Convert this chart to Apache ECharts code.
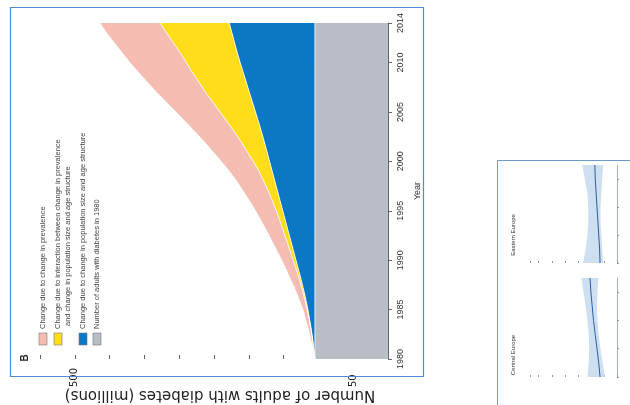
<!DOCTYPE html>
<html lang="en">
<head>
  <meta charset="UTF-8">
  <title>Diabetes decomposition</title>
  <script src="https://cdn.jsdelivr.net/npm/echarts@6/dist/echarts.min.js"></script>
  <style>
    html, body { margin: 0; padding: 0; background: #fff; }
  </style>
</head>
<body>
<div id="main" style="width: 630px;height: 405px;"></div>
<script>
  // years on the vertical axis (1980 at the bottom)
  var years = [];
  for (var yr = 1980; yr <= 2014; yr++) years.push(String(yr));
  var yearLabels = ['1980', '1985', '1990', '1995', '2000', '2005', '2010', '2014'];
  var valueTickLabels = ['', '50', '', '', '', '', '', '', '', '500', ''];
  var valueTitle = 'Number of adults with diabetes (millions)';

  // millions
  var adults1980 = [105, 105, 105, 105, 105, 105, 105, 105, 105, 105, 105, 105, 105, 105, 105, 105, 105, 105,
    105, 105, 105, 105, 105, 105, 105, 105, 105, 105, 105, 105, 105, 105, 105, 105, 105];
  var popChange = [0, 1.5, 3.2, 5.2, 7.5, 10.1, 13, 16.2, 19.7, 23.4, 27.2, 31, 34.8, 38.6, 42.4, 46.2, 50, 53.8,
    57.6, 61.4, 65.2, 69, 72.8, 76.8, 81, 85.4, 89.8, 94.2, 98.6, 103, 107.4, 111.6, 115.4, 119.2, 123];
  var interaction = [0, 0.2, 0.4, 0.6, 0.9, 1.2, 1.6, 2, 2.5, 3.2, 4, 5, 6, 7, 8, 9.2, 11, 13.3,
    16, 19, 23.5, 28.5, 33.5, 39, 45, 51, 57, 63, 68, 73, 77.5, 82, 88, 94, 99.5];
  var prevChange = [0, 1, 2.5, 3.5, 5, 6, 8, 10, 12.5, 14.5, 16.5, 19, 21.5, 24, 27, 30, 33, 36,
    39, 42.5, 46, 49.5, 53, 56.5, 60, 63.5, 67, 70.5, 74, 77.5, 81, 83.5, 85, 86, 86.5];

  var legendNames = [
    ['Change due to change in prevalence'],
    ['Change due to interaction between change in prevalence', 'and change in population size and age structure'],
    ['Change due to change in population size and age structure'],
    ['Number of adults with diabetes in 1980']
  ];
  var colors = ['#f5bdb1', '#ffdd1a', '#0b77c5', '#b9bdc6'];

  // small panels on the right (prevalence, %)
  var miniYears = ['1980', '1985', '1990', '1995', '2000', '2005', '2010', '2014'];
  var eastMid = [3.9, 4.0, 4.2, 4.4, 4.6, 4.8, 5.0, 5.1];
  var eastLow = [3.2, 3.4, 3.6, 3.8, 3.8, 3.6, 3.4, 3.2];
  var eastHigh = [7.8, 7.2, 6.8, 6.6, 6.6, 6.8, 7.4, 8.0];
  var centMid = [3.9, 4.2, 4.6, 5.0, 5.4, 5.7, 6.0, 6.2];
  var centLow = [2.8, 3.3, 3.8, 4.2, 4.5, 4.6, 4.5, 4.3];
  var centHigh = [6.8, 6.5, 6.4, 6.5, 6.8, 7.2, 7.7, 8.2];

  var font = 'Liberation Sans';
  var myChart = echarts.init(document.getElementById('main'), null, {renderer: 'canvas'});

  function showYear(i, v) { return yearLabels.indexOf(v) >= 0; }

  function area(name, data, color) {
    return {
      name: name, type: 'line', stack: 'total', data: data,
      xAxisIndex: 0, yAxisIndex: 0,
      symbol: 'none', lineStyle: {color: '#fff', width: 0.8},
      areaStyle: {color: color, opacity: 1}
    };
  }

  function band(gi, low, high, mid) {
    var width = high.map(function (h, i) { return +(h - low[i]).toFixed(2); });
    return [
      {type: 'line', stack: 'b' + gi, xAxisIndex: gi, yAxisIndex: gi, data: low, symbol: 'none',
        lineStyle: {width: 0}},
      {type: 'line', stack: 'b' + gi, xAxisIndex: gi, yAxisIndex: gi, data: width, symbol: 'none',
        lineStyle: {width: 0}, areaStyle: {color: '#cddff0', opacity: 1}},
      {type: 'line', xAxisIndex: gi, yAxisIndex: gi, data: mid, symbol: 'none',
        lineStyle: {color: '#2b5f9e', width: 1}}
    ];
  }

  // legend drawn by hand: the whole figure is turned on its side
  var legendX = [43, 58, 83, 97];
  var graphics = [];
  legendNames.forEach(function (lines, i) {
    graphics.push({type: 'rect', shape: {x: legendX[i] - 4, y: 333, width: 8, height: 12},
      style: {fill: colors[i], stroke: '#777', lineWidth: 0.6}});
    lines.forEach(function (t, j) {
      graphics.push({type: 'text', x: legendX[i] + j * 10, y: 329 - j * 3, rotation: Math.PI / 2,
        style: {text: t, fill: '#444', font: '7.5px ' + font, textAlign: 'left', textVerticalAlign: 'middle'}});
    });
  });
  graphics.push({type: 'text', x: 25, y: 358, rotation: Math.PI / 2,
    style: {text: 'B', fill: '#222', font: 'bold 10px ' + font, textAlign: 'center', textVerticalAlign: 'middle'}});
  graphics.push({type: 'text', x: 220, y: 395, rotation: Math.PI,
    style: {text: valueTitle, fill: '#222', font: '15px DejaVu Sans', textAlign: 'center', textVerticalAlign: 'middle'}});
  graphics.push({type: 'text', x: 513, y: 235, rotation: Math.PI / 2,
    style: {text: 'Eastern Europe', fill: '#333', font: '6px ' + font, textAlign: 'center', textVerticalAlign: 'middle'}});
  graphics.push({type: 'text', x: 513, y: 355, rotation: Math.PI / 2,
    style: {text: 'Central Europe', fill: '#333', font: '6px ' + font, textAlign: 'center', textVerticalAlign: 'middle'}});
  graphics.push({type: 'rect', z: 100, shape: {x: 10.5, y: 7.5, width: 413, height: 369},
    style: {fill: 'none', stroke: '#4f8cc9', lineWidth: 1.2}});
  graphics.push({type: 'rect', z: 100, shape: {x: 497.5, y: 160.5, width: 150, height: 260},
    style: {fill: 'none', stroke: '#6c9bd0', lineWidth: 1}});

  var miniX = function (gi) {
    return {gridIndex: gi, type: 'value', min: 0, max: 20, interval: 3, inverse: true,
      axisLine: {lineStyle: {color: '#8a9bb0', width: 0.8}},
      axisTick: {show: true, inside: true, length: 2, lineStyle: {color: '#8a9bb0'}},
      axisLabel: {show: false}, splitLine: {show: false}};
  };
  var miniY = function (gi) {
    return {gridIndex: gi, type: 'category', data: miniYears, boundaryGap: false, position: 'right',
      axisLine: {lineStyle: {color: '#8a9bb0', width: 0.8}},
      axisTick: {show: true, length: 2, lineStyle: {color: '#8a9bb0'}},
      axisLabel: {show: false}};
  };

  myChart.setOption({
    animation: false,
    backgroundColor: '#fff',
    grid: [
      {left: 40, right: 242, top: 23, bottom: 46},
      {left: 530, right: 13, top: 165, bottom: 142},
      {left: 530, right: 13, top: 278, bottom: 28}
    ],
    xAxis: [{
      gridIndex: 0, type: 'value', min: 0, max: 500, interval: 50, inverse: true, position: 'bottom',
      axisLine: {lineStyle: {color: '#666', width: 1}},
      axisTick: {show: true, inside: true, length: 4, lineStyle: {color: '#666'}},
      axisLabel: {rotate: 90, align: 'left', margin: 28, fontFamily: 'DejaVu Sans', fontSize: 10, color: '#222',
        formatter: function (v) { return valueTickLabels[Math.round(v / 50)] || ''; }},
      splitLine: {show: false}
    }, miniX(1), miniX(2)],
    yAxis: [{
      gridIndex: 0, type: 'category', data: years, boundaryGap: false, position: 'right',
      name: 'Year', nameLocation: 'middle', nameGap: 24, nameRotate: 90,
      nameTextStyle: {fontFamily: font, fontSize: 9, color: '#333'},
      axisLine: {lineStyle: {color: '#666', width: 1}},
      axisTick: {show: true, length: 4, interval: showYear, lineStyle: {color: '#666'}},
      axisLabel: {rotate: 90, interval: showYear, margin: 8, fontFamily: font, fontSize: 9, color: '#333'}
    }, miniY(1), miniY(2)],
    series: [
      area('Number of adults with diabetes in 1980', adults1980, colors[3]),
      area('Change due to change in population size and age structure', popChange, colors[2]),
      area('Change due to interaction', interaction, colors[1]),
      area('Change due to change in prevalence', prevChange, colors[0])
    ].concat(band(1, eastLow, eastHigh, eastMid)).concat(band(2, centLow, centHigh, centMid)),
    graphic: graphics
  });
</script>
</body>
</html>
